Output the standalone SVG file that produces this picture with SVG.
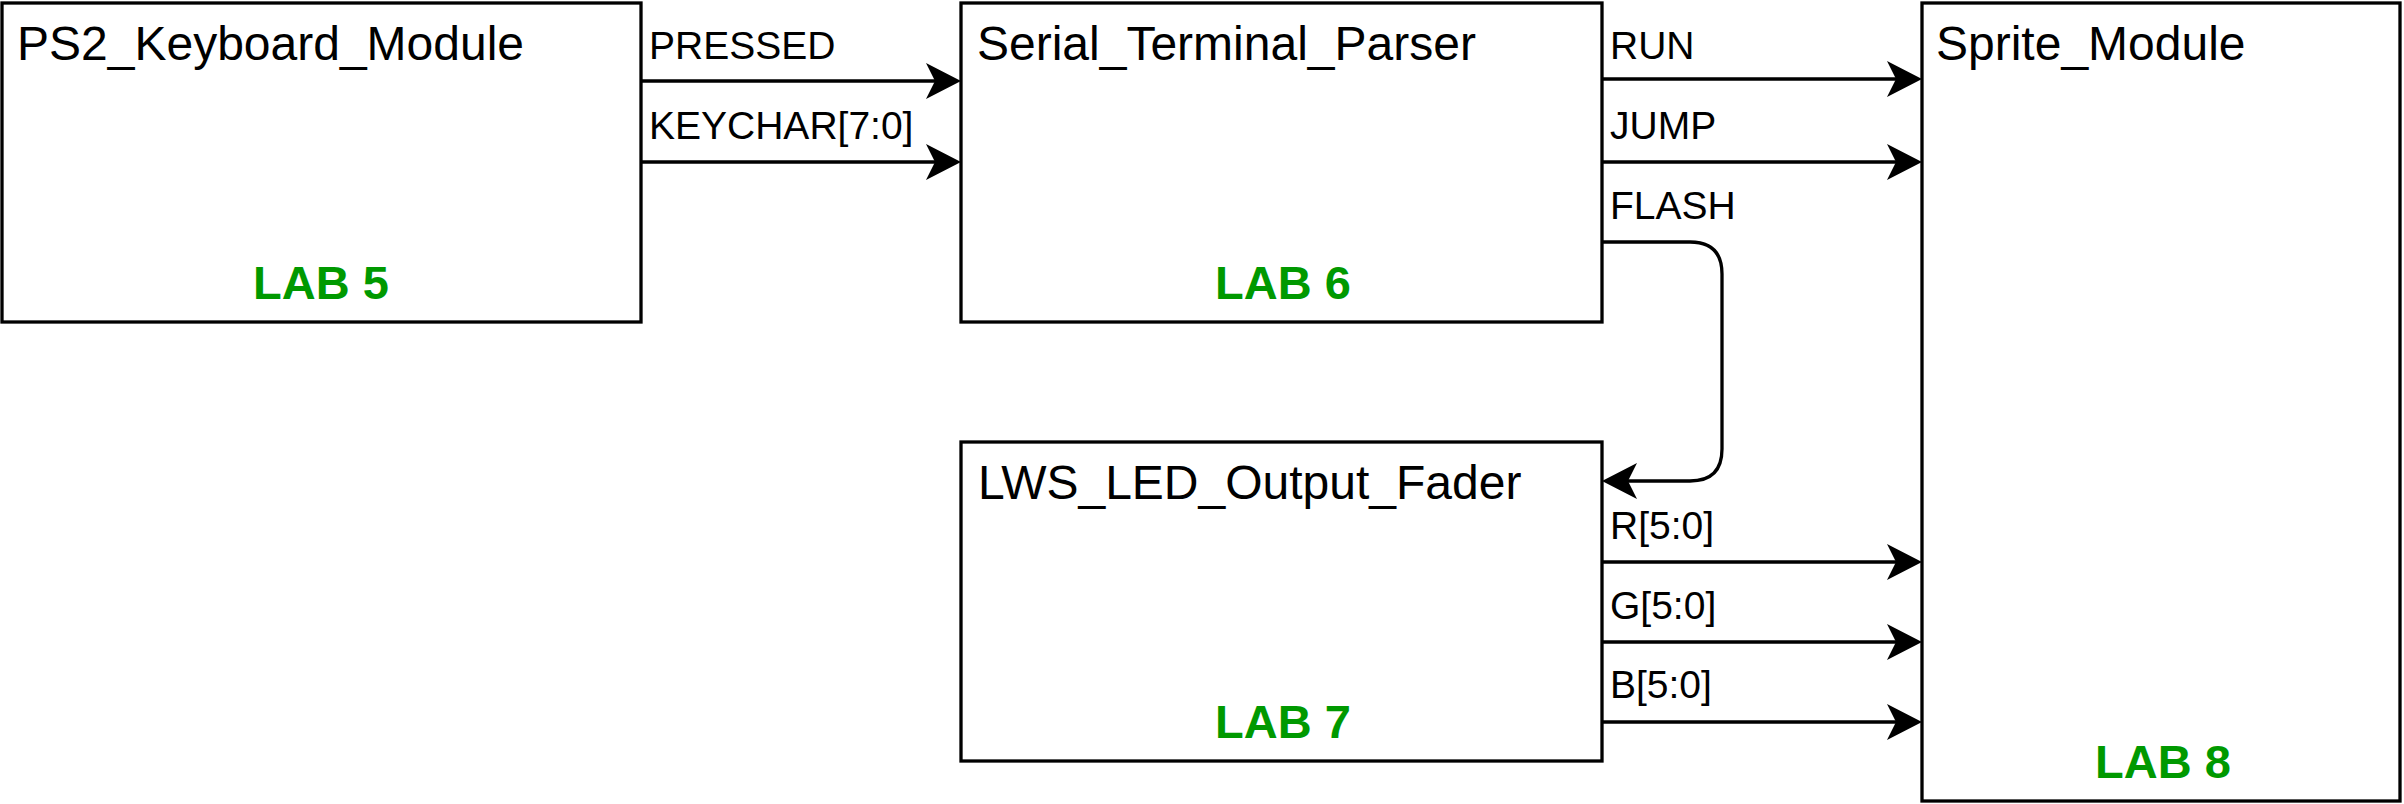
<svg xmlns="http://www.w3.org/2000/svg" width="2404" height="804" viewBox="0 0 2404 804">
<style>
.box{fill:#fff;stroke:#000;stroke-width:3.3}
.title{font-family:"Liberation Sans",Arial,sans-serif;font-size:48px;fill:#000}
.lab{font-family:"Liberation Sans",Arial,sans-serif;font-size:47px;font-weight:bold;fill:#009900;text-anchor:middle}
.sig{font-family:"Liberation Sans",Arial,sans-serif;font-size:39px;fill:#000}
.wire{fill:none;stroke:#000;stroke-width:3.3;marker-end:url(#arr)}
</style>
<defs>
<marker id="arr" markerUnits="userSpaceOnUse" viewBox="-36 -19 37 38" markerWidth="37" markerHeight="38" refX="-20" refY="0" orient="auto">
<path d="M0,0 L-35,-18 L-26,0 L-35,18 Z" fill="#000"/>
</marker>
</defs>
<rect width="2404" height="804" fill="#fff"/>
<g id="ps2">
<rect class="box" x="2" y="3" width="639" height="319"/>
<text class="title" x="17" y="60">PS2_Keyboard_Module</text>
<text class="lab" x="321" y="299">LAB 5</text>
</g>
<g id="serial">
<rect class="box" x="961" y="3" width="641" height="319"/>
<text class="title" x="977" y="60">Serial_Terminal_Parser</text>
<text class="lab" x="1283" y="299">LAB 6</text>
</g>
<g id="lws">
<rect class="box" x="961" y="442" width="641" height="319"/>
<text class="title" x="978" y="499">LWS_LED_Output_Fader</text>
<text class="lab" x="1283" y="738">LAB 7</text>
</g>
<g id="sprite">
<rect class="box" x="1922" y="3" width="478" height="798"/>
<text class="title" x="1936" y="60">Sprite_Module</text>
<text class="lab" x="2163" y="778">LAB 8</text>
</g>
<g id="connectors">
<path class="wire" d="M641,81 H941"/>
<path class="wire" d="M641,162 H941"/>
<path class="wire" d="M1602,79 H1902"/>
<path class="wire" d="M1602,162 H1902"/>
<path class="wire" d="M1602,242 H1690 Q1722,242 1722,274 V449 Q1722,481 1690,481 H1622"/>
<path class="wire" d="M1602,562 H1902"/>
<path class="wire" d="M1602,642 H1902"/>
<path class="wire" d="M1602,722 H1902"/>
<text class="sig" x="649" y="59">PRESSED</text>
<text class="sig" x="649" y="139">KEYCHAR[7:0]</text>
<text class="sig" x="1610" y="59">RUN</text>
<text class="sig" x="1610" y="139">JUMP</text>
<text class="sig" x="1610" y="219">FLASH</text>
<text class="sig" x="1610" y="539">R[5:0]</text>
<text class="sig" x="1610" y="619">G[5:0]</text>
<text class="sig" x="1610" y="698">B[5:0]</text>
</g>
</svg>
